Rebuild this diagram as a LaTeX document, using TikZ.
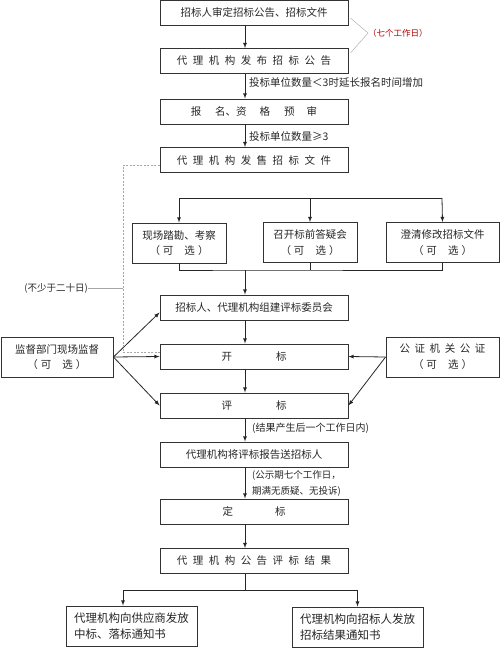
\documentclass[tikz,border=0pt]{standalone}
\usepackage{fontspec}
\setmainfont{Noto Sans CJK SC}
\usepackage{tikz}
\usetikzlibrary{
    arrows,
    calc
}
\tikzset{
    box/.style={draw=black!80, line width=0.9pt, minimum width=188pt, minimum height=25pt,
        inner sep=1pt, text=black!85, font=\fontsize{10.5}{12}\selectfont},
    optbox/.style={box, minimum width=94pt, minimum height=40pt},
    note/.style={inner sep=0pt, anchor=west, text=black!85, font=\fontsize{9.5}{11}\selectfont},
    flow/.style={->, >=latex, line width=0.8pt, draw=black!85}
}
\newcommand{\wide}[2]{{\addfontfeature{LetterSpace=#1}#2}}
\newcommand{\kexuan}{（\hspace{3pt}可\hspace{11pt}选\hspace{3pt}）}

\begin{document}
\begin{tikzpicture}[x=1pt, y=-1pt]
    \useasboundingbox (0,0) rectangle (500,648);
    \coordinate (s) at (245,0);
    % main column
    \node[box] (b1) at (254,12.5) {招标人审定招标公告、招标文件};
    \node[box] (b2) at (254,61) {\wide{52}{代理机构发布招标公告}};
    \node[box] (b3) at (254,111.5) {报\hspace{14pt}名、资\hspace{13pt}格\hspace{14pt}预\hspace{12pt}审};
    \node[box] (b4) at (254,160) {\wide{52}{代理机构发售招标文件}};
    \node[optbox] (va) at (179,243) {\shortstack{现场踏勘、考察\\[3pt]\kexuan}};
    \node[optbox] (vb) at (310,242.5) {\shortstack{召开标前答疑会\\[3pt]\kexuan}};
    \node[optbox, minimum width=113pt] (vc) at (442.5,242.5) {\shortstack{澄清修改招标文件\\[3pt]\kexuan}};
    \node[box] (b5) at (254,307.5) {招标人、代理机构组建评标委员会};
    \node[box] (b6) at (254,356.5) {开\hspace{44pt}标};
    \node[box] (b7) at (254,405.5) {评\hspace{44pt}标};
    \node[box] (b8) at (254,454.5) {代理机构将评标报告送招标人};
    \node[box] (b9) at (254,511.5) {定\hspace{42pt}标};
    \node[box] (b10) at (254,561) {\wide{52}{代理机构公告评标结果}};
    \node[optbox, minimum width=131pt, font=\fontsize{11.5}{13}\selectfont] (n1) at (131.5,626)
        {\shortstack[l]{代理机构向供应商发放\\[2pt]中标、落标通知书}};
    \node[optbox, minimum width=131pt, font=\fontsize{11.5}{13}\selectfont] (n2) at (357.5,627)
        {\shortstack[l]{代理机构向招标人发放\\[2pt]招标结果通知书}};
    % side boxes
    \node[optbox, minimum width=112pt] (sup) at (57,357) {\shortstack{监督部门现场监督\\[3pt]\kexuan}};
    \node[optbox, minimum width=113pt] (nt) at (442.5,357) {\shortstack{\wide{43}{公证机关公证}\\[3pt]\kexuan}};
    % notes
    \node[note, font=\fontsize{10.5}{12}\selectfont] (lt3) at (249,83) {投标单位数量＜3时延长报名时间增加};
    \node[note, font=\fontsize{10.5}{12}\selectfont] (ge3) at (249,136) {投标单位数量≥3};
    \node[note, text=red!70!black, font=\fontsize{8.5}{10}\selectfont] (seven) at (368,33) {（七个工作日）};
    \node[note, anchor=east] (twenty) at (88,288) {(不少于二十日)};
    \node[note, font=\fontsize{10}{11}\selectfont] (res) at (252,428) {(结果产生后一个工作日内)};
    \node[note] (pub) at (252,483.5) {\shortstack[l]{(公示期七个工作日，\\[3pt]期满无质疑、无投诉)}};
    % connectors
    \draw[flow] (b1.south -| s) -- (b2.north -| s);
    \draw[flow] (b2.south -| s) -- (b3.north -| s);
    \draw[flow] (b3.south -| s) -- (b4.north -| s);
    \coordinate (t) at (442,198);
    \draw[flow] (t) -| (va.north);
    \draw[flow] (t) -- (vc.north);
    \draw[flow] (vb.north |- t) -- (vb.north);
    \coordinate (j) at (245,270);
    \draw[line width=0.8pt, black!85] (va.south) |- (j) -| (vc.south);
    \draw[line width=0.8pt, black!85] (vb.south) -- (vb.south |- j);
    \draw[flow] (j) -- (b5.north -| s);
    \draw[flow] (b5.south -| s) -- (b6.north -| s);
    \draw[flow] (b6.south -| s) -- (b7.north -| s);
    \draw[flow] (b7.south -| s) -- (b8.north -| s);
    \draw[flow] (b8.south -| s) -- (b9.north -| s);
    \draw[flow] (b9.south -| s) -- (b10.north -| s);
    \coordinate (k) at (245,590);
    \draw[line width=0.8pt, black!85] (b10.south -| s) -- (k);
    \draw[flow] (k) -| ([xshift=-8.5pt]n1.north);
    \draw[flow] (k) -| (n2.north);
    \draw[flow] (sup.east) -- ([yshift=-5pt]b5.west);
    \draw[flow] (sup.east) -- (b6.west);
    \draw[flow] (sup.east) -- (b7.west);
    \draw[flow] (nt.west) -- (b6.east);
    \draw[flow] (nt.west) -- (b7.east);
    % time spans
    \coordinate (d) at (123,352);
    \draw[gray!70, dash pattern=on 2pt off 1.5pt] ([yshift=-5pt]b4.west) -| (d) -- (d -| b6.west);
    \draw[gray!70] (twenty.east) -- (twenty.east -| d);
    \draw[gray!70] ([xshift=2pt,yshift=-5.5pt]b1.east) -- (seven.west) -- ([xshift=2pt,yshift=8pt]b2.east);
\end{tikzpicture}
\end{document}
